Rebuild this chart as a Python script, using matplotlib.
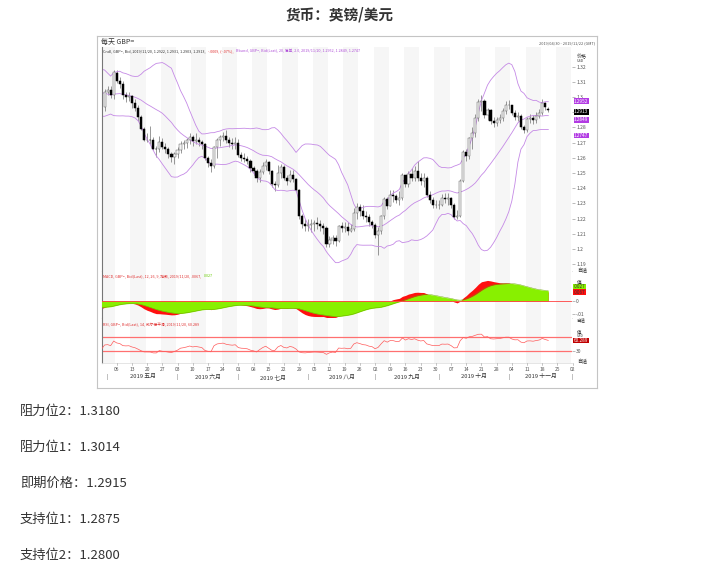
import numpy as np
import pandas as pd
import matplotlib.pyplot as plt
import matplotlib.transforms as mtransforms

plt.rcParams['font.family'] = ['Noto Sans CJK SC', 'DejaVu Sans']

# GBP/USD daily, 2019-04-30 .. 2019-11-20 (business days)
first_day = '2019-04-30'
# closes before the window (Mar 1 .. Apr 29), only used to warm up the indicators
prior_closes = [1.3190, 1.3140, 1.3150, 1.3085, 1.3070, 1.3010, 1.3155, 1.3075, 1.3310, 1.3240,
                1.3260, 1.3265, 1.3245, 1.3220, 1.3095, 1.3205, 1.3210, 1.3225, 1.3200, 1.3030,
                1.3035,
                1.3045, 1.3090, 1.3165, 1.3150, 1.3035, 1.3065, 1.3055, 1.3110, 1.3065, 1.3085,
                1.3080, 1.3040, 1.3040, 1.3000, 1.3000, 1.2995, 1.2935, 1.2905, 1.2890, 1.2920,
                1.2935]

opens = [1.2935, 1.3035, 1.3045, 1.3015,
         1.3160, 1.3105, 1.3085, 1.3010, 1.3000,
         1.3005, 1.2960, 1.2930, 1.2870, 1.2790,
         1.2720, 1.2720, 1.2715, 1.2660, 1.2655,
         1.2705, 1.2670, 1.2655, 1.2625, 1.2605,
         1.2625, 1.2650, 1.2690, 1.2700, 1.2715,
         1.2735, 1.2710, 1.2720, 1.2705, 1.2690,
         1.2600, 1.2565, 1.2545, 1.2670, 1.2720,
         1.2735, 1.2745, 1.2715, 1.2700, 1.2690,
         1.2700, 1.2620, 1.2600, 1.2595, 1.2580,
         1.2535, 1.2510, 1.2465, 1.2505, 1.2545,
         1.2575, 1.2510, 1.2430, 1.2420, 1.2500,
         1.2540, 1.2470, 1.2450, 1.2490, 1.2460,
         1.2385, 1.2220, 1.2165, 1.2150, 1.2160,
         1.2165, 1.2170, 1.2165, 1.2150, 1.2140,
         1.2030, 1.2060, 1.2075, 1.2055, 1.2150,
         1.2140, 1.2145, 1.2120, 1.2130, 1.2235,
         1.2275, 1.2250, 1.2220, 1.2210, 1.2175,
         1.2160, 1.2090, 1.2120, 1.2215, 1.2330,
         1.2285, 1.2355, 1.2350, 1.2325, 1.2335,
         1.2485, 1.2425, 1.2495, 1.2470, 1.2510,
         1.2470, 1.2445, 1.2465, 1.2355, 1.2325,
         1.2290, 1.2290, 1.2290, 1.2335, 1.2330,
         1.2335, 1.2290, 1.2210, 1.2215, 1.2450,
         1.2640, 1.2615, 1.2730, 1.2760, 1.2860,
         1.2965, 1.2975, 1.2880, 1.2915, 1.2840,
         1.2830, 1.2850, 1.2860, 1.2905, 1.2945,
         1.2945, 1.2895, 1.2870, 1.2875, 1.2805,
         1.2785, 1.2855, 1.2860, 1.2850, 1.2875,
         1.2895, 1.2960, 1.2922]

highs = [1.3050, 1.3070, 1.3070, 1.3177,
         1.3175, 1.3130, 1.3105, 1.3030, 1.3035,
         1.3010, 1.2985, 1.2945, 1.2880, 1.2800,
         1.2760, 1.2810, 1.2740, 1.2680, 1.2745,
         1.2730, 1.2695, 1.2670, 1.2640, 1.2640,
         1.2670, 1.2710, 1.2720, 1.2730, 1.2760,
         1.2750, 1.2765, 1.2740, 1.2720, 1.2700,
         1.2615, 1.2590, 1.2680, 1.2730, 1.2750,
         1.2770, 1.2784, 1.2735, 1.2730, 1.2740,
         1.2725, 1.2640, 1.2630, 1.2610, 1.2595,
         1.2545, 1.2525, 1.2525, 1.2570, 1.2590,
         1.2580, 1.2520, 1.2450, 1.2555, 1.2560,
         1.2550, 1.2490, 1.2520, 1.2520, 1.2470,
         1.2395, 1.2230, 1.2200, 1.2200, 1.2200,
         1.2190, 1.2210, 1.2190, 1.2170, 1.2150,
         1.2085, 1.2090, 1.2095, 1.2160, 1.2180,
         1.2175, 1.2180, 1.2165, 1.2270, 1.2300,
         1.2295, 1.2290, 1.2250, 1.2230, 1.2190,
         1.2170, 1.2145, 1.2225, 1.2345, 1.2340,
         1.2385, 1.2385, 1.2360, 1.2380, 1.2500,
         1.2490, 1.2510, 1.2530, 1.2545, 1.2580,
         1.2500, 1.2500, 1.2480, 1.2380, 1.2345,
         1.2320, 1.2320, 1.2360, 1.2370, 1.2370,
         1.2345, 1.2300, 1.2255, 1.2460, 1.2650,
         1.2655, 1.2740, 1.2800, 1.2890, 1.2990,
         1.3013, 1.2990, 1.2930, 1.2920, 1.2870,
         1.2870, 1.2885, 1.2930, 1.2975, 1.2980,
         1.2950, 1.2915, 1.2900, 1.2885, 1.2815,
         1.2870, 1.2890, 1.2880, 1.2900, 1.2920,
         1.2985, 1.2970, 1.2931]

lows = [1.2910, 1.3010, 1.2995, 1.2990,
        1.3090, 1.3060, 1.2990, 1.2970, 1.2975,
        1.2930, 1.2910, 1.2845, 1.2780, 1.2710,
        1.2705, 1.2690, 1.2650, 1.2605, 1.2640,
        1.2655, 1.2630, 1.2600, 1.2575, 1.2560,
        1.2600, 1.2630, 1.2660, 1.2665, 1.2690,
        1.2680, 1.2690, 1.2680, 1.2660, 1.2585,
        1.2540, 1.2506, 1.2530, 1.2600, 1.2680,
        1.2710, 1.2700, 1.2670, 1.2660, 1.2655,
        1.2605, 1.2580, 1.2575, 1.2560, 1.2505,
        1.2490, 1.2440, 1.2440, 1.2495, 1.2520,
        1.2495, 1.2410, 1.2384, 1.2410, 1.2470,
        1.2455, 1.2420, 1.2440, 1.2440, 1.2380,
        1.2200, 1.2140, 1.2120, 1.2120, 1.2110,
        1.2120, 1.2130, 1.2120, 1.2100, 1.2015,
        1.2015, 1.2035, 1.2020, 1.2045, 1.2110,
        1.2110, 1.2095, 1.2110, 1.2120, 1.2200,
        1.2220, 1.2200, 1.2180, 1.2150, 1.2135,
        1.2070, 1.1958, 1.2100, 1.2200, 1.2260,
        1.2280, 1.2310, 1.2300, 1.2290, 1.2320,
        1.2405, 1.2410, 1.2450, 1.2450, 1.2450,
        1.2420, 1.2410, 1.2340, 1.2300, 1.2270,
        1.2270, 1.2265, 1.2280, 1.2300, 1.2290,
        1.2270, 1.2195, 1.2200, 1.2210, 1.2440,
        1.2580, 1.2590, 1.2660, 1.2740, 1.2840,
        1.2910, 1.2860, 1.2850, 1.2820, 1.2805,
        1.2810, 1.2830, 1.2840, 1.2890, 1.2920,
        1.2880, 1.2850, 1.2840, 1.2790, 1.2765,
        1.2770, 1.2830, 1.2820, 1.2830, 1.2860,
        1.2880, 1.2915, 1.2903]

closes = [1.3035, 1.3045, 1.3015, 1.3165,
          1.3105, 1.3085, 1.3010, 1.3000, 1.3005,
          1.2960, 1.2930, 1.2870, 1.2790, 1.2720,
          1.2720, 1.2715, 1.2660, 1.2655, 1.2705,
          1.2670, 1.2655, 1.2625, 1.2605, 1.2625,
          1.2650, 1.2690, 1.2700, 1.2715, 1.2735,
          1.2710, 1.2720, 1.2705, 1.2690, 1.2600,
          1.2565, 1.2545, 1.2670, 1.2720, 1.2735,
          1.2745, 1.2715, 1.2700, 1.2690, 1.2700,
          1.2620, 1.2600, 1.2595, 1.2580, 1.2535,
          1.2510, 1.2465, 1.2505, 1.2545, 1.2575,
          1.2510, 1.2430, 1.2420, 1.2500, 1.2540,
          1.2470, 1.2450, 1.2490, 1.2460, 1.2385,
          1.2220, 1.2165, 1.2150, 1.2160, 1.2165,
          1.2170, 1.2165, 1.2150, 1.2140, 1.2030,
          1.2060, 1.2075, 1.2055, 1.2150, 1.2140,
          1.2145, 1.2120, 1.2130, 1.2235, 1.2275,
          1.2250, 1.2220, 1.2210, 1.2175, 1.2160,
          1.2090, 1.2120, 1.2215, 1.2330, 1.2285,
          1.2355, 1.2350, 1.2325, 1.2335, 1.2485,
          1.2425, 1.2495, 1.2470, 1.2510, 1.2470,
          1.2445, 1.2465, 1.2355, 1.2325, 1.2290,
          1.2290, 1.2290, 1.2335, 1.2330, 1.2335,
          1.2290, 1.2210, 1.2215, 1.2450, 1.2640,
          1.2615, 1.2730, 1.2760, 1.2860, 1.2965,
          1.2975, 1.2880, 1.2915, 1.2840, 1.2830,
          1.2850, 1.2860, 1.2905, 1.2945, 1.2945,
          1.2895, 1.2870, 1.2875, 1.2805, 1.2785,
          1.2855, 1.2860, 1.2850, 1.2875, 1.2895,
          1.2960, 1.2935, 1.2913]

price_ticks = [1.19, 1.20, 1.21, 1.22, 1.23, 1.24, 1.25, 1.26, 1.27, 1.28, 1.29, 1.30, 1.31, 1.32]
hidden_tick = 1.29  # sits under the last-price box in the reference
month_labels = ['2019 五月', '2019 六月', '2019 七月', '2019 八月', '2019 九月', '2019 十月', '2019 十一月']
month_starts = ['2019-05-01', '2019-06-03', '2019-07-01', '2019-08-01', '2019-09-02', '2019-10-01', '2019-11-01', '2019-12-02']
band_labels = ['1.2952', '1.2849', '1.2747']
last_label = '1.2913'
macd_labels = ['.0067', '.0027']
rsi_label = '60.289'

levels = [('阻力位2', '1.3180'), ('阻力位1', '1.3014'), ('即期价格', '1.2915'),
          ('支持位1', '1.2875'), ('支持位2', '1.2800')]

# ---- positions (trading-day axis starting Mon 2019-04-29) ----
axis_days = pd.bdate_range('2019-04-29', '2019-12-06')
bar_days = pd.bdate_range(first_day, periods=len(closes))
pos = axis_days.get_indexer(bar_days)
mondays = axis_days[(axis_days.weekday == 0) & (axis_days >= '2019-05-06')]
tick_pos = axis_days.get_indexer(mondays)

o = np.array(opens); h = np.array(highs); l = np.array(lows); c = np.array(closes)

# ---- indicators ----
s = pd.Series(prior_closes + closes)
mid = s.rolling(20).mean()
sd = s.rolling(20).std(ddof=0)
upper, lower = mid + 2 * sd, mid - 2 * sd
macd = s.ewm(span=12, adjust=False).mean() - s.ewm(span=26, adjust=False).mean()
signal = macd.ewm(span=9, adjust=False).mean()
d = s.diff()
gain = d.clip(lower=0).ewm(alpha=1 / 14, adjust=False).mean()
loss = (-d.clip(upper=0)).ewm(alpha=1 / 14, adjust=False).mean()
rsi = 100 - 100 / (1 + gain / loss)

n = len(closes) + 1  # include the day before the window so lines reach the left edge
ix = np.concatenate([[pos[0] - 1], pos])
up_b, mid_b, lo_b = upper.values[-n:], mid.values[-n:], lower.values[-n:]
macd_v, sig_v, rsi_v = macd.values[-n:], signal.values[-n:], rsi.values[-n:]

# ---- figure ----
W, H = 711, 575
fig = plt.figure(figsize=(W / 100, H / 100), dpi=100)
fig.patch.set_facecolor('white')


def px_axes(x0, y0, x1, y1):
    return fig.add_axes([x0 / W, 1 - y1 / H, (x1 - x0) / W, (y1 - y0) / H])


def header(a, y, parts, size=2.7):
    # several coloured pieces on one line, each placed right after the previous one
    t = a.text(0.003, y, parts[0][0], transform=a.transAxes, fontsize=size, color=parts[0][1], va='top')
    for txt, col in parts[1:]:
        t = a.annotate(txt, xy=(1, 1), xycoords=t, xytext=(1.5, 0), textcoords='offset points',
                       fontsize=size, color=col, va='top')


grey = '#555555'
small = 3.6
xlo, xhi = 0.15, 154.8

fig.text(340 / W, 1 - 14 / H, '货币：英镑/美元', ha='center', va='center', fontsize=10.5,
         fontweight='bold', color='#333333')

# outer frame of the chart picture
frame = fig.add_axes([97 / W, 1 - 388 / H, 500 / W, 352 / H])
frame.set_xticks([]); frame.set_yticks([])
for sp in frame.spines.values():
    sp.set_color('#c4c4c4'); sp.set_linewidth(0.8)
frame.patch.set_alpha(0)

fig.text(101 / W, 1 - 42 / H, '每天 GBP=', fontsize=5, color='#333333', va='center')
fig.text(595 / W, 1 - 43 / H, '2019/04/30 - 2019/11/22 (GMT)', fontsize=2.8, color=grey,
         va='center', ha='right')

ax = px_axes(102, 47, 572, 271)
ax_m = px_axes(102, 271, 572, 318)
ax_r = px_axes(102, 318, 572, 363)
ax_d = px_axes(102, 363, 572, 387)

for a in (ax, ax_m, ax_r):
    a.set_xlim(xlo, xhi)
    for k, t in enumerate(np.arange(0, 160, 5)):
        if k % 2 == 0:
            a.axvspan(t - 0.5, t + 4.5, color='#f6f6f6', lw=0, zorder=0)
    for sp in ('top', 'right'):
        a.spines[sp].set_visible(False)
    a.spines['bottom'].set_color('#e0e0e0')
    a.spines['bottom'].set_linewidth(0.6)
    a.spines['left'].set_color('#777777')
    a.spines['left'].set_linewidth(0.8)
    a.set_xticks([])
    a.yaxis.tick_right()
    a.tick_params(axis='y', length=2, width=0.4, colors='#888888', labelsize=small, pad=1,
                  labelcolor=grey)

# price panel
ax.set_ylim(1.20 - 22 / 1520, 1.20 + 202 / 1520)
ax.set_yticks(price_ticks)
ax.set_yticklabels(['' if v == hidden_tick else f'{v:g}' for v in price_ticks])
ax.vlines(pos, l, h, color='#707070', lw=0.5, zorder=2)
up = c >= o
ax.bar(pos[up], (c - o)[up], bottom=o[up], width=0.7, color='#f4f4f4', edgecolor='#606060',
       lw=0.35, zorder=3)
ax.bar(pos[~up], (o - c)[~up], bottom=c[~up], width=0.7, color='black', edgecolor='black',
       lw=0.35, zorder=3)
for band in (up_b, mid_b, lo_b):
    ax.plot(ix, band, color='#c58ae6', lw=0.6, zorder=2)

header(ax, 0.99, [('Cndl, GBP=, Bid, 2019/11/20, 1.2922, 1.2931, 1.2903, 1.2913,', '#333333'),
                  ('-.0009, (-.07%),', '#e03030'),
                  ('Bband, GBP=, Bid(Last), 20, 简单, 2.0, 2019/11/20, 1.2952, 1.2849, 1.2747', '#b050d8')])
tr = mtransforms.blended_transform_factory(ax.transAxes, ax.transData)
ax.text(1.01, 1.32 + 0.0068, '价格', transform=tr, fontsize=3.6, color='#333333', va='center')
ax.text(1.01, 1.32 + 0.0034, 'USD', transform=tr, fontsize=2.6, color='#333333', va='center')
ax.text(1.01, 1.20 - 0.0140, '自适', transform=tr, fontsize=3.6, color='#333333', va='center')

# value boxes, stacked at the right of the price scale
box_kw = dict(transform=tr, fontsize=3.4, color='white', va='center', zorder=5)
ax.annotate(band_labels[0], xy=(1.004, float(band_labels[0])), xycoords=tr, xytext=(0, 2.2),
            textcoords='offset points', fontsize=3.4, color='white', va='center', zorder=5,
            bbox=dict(boxstyle='square,pad=0.08', fc='#b23be3', ec='none'))
ax.annotate(last_label, xy=(1.004, float(last_label)), xycoords=tr, xytext=(0, -1.2),
            textcoords='offset points', fontsize=3.4, color='white', va='center', zorder=6,
            bbox=dict(boxstyle='square,pad=0.08', fc='black', ec='none'))
for lab in band_labels[1:]:
    ax.text(1.004, float(lab), lab, bbox=dict(boxstyle='square,pad=0.08', fc='#b23be3', ec='none'), **box_kw)

# MACD panel
mscale = 1300.0
ax_m.set_ylim(-17 / mscale, 30 / mscale)
ax_m.set_yticks([0, -0.01])
ax_m.set_yticklabels(['0', '-.01'])
ax_m.fill_between(ix, 0, macd_v, color='#ff1010', lw=0, zorder=2)
ax_m.fill_between(ix, 0, sig_v, color='#88f000', lw=0, zorder=3)
ax_m.plot(ix, sig_v, color='#6aa000', lw=0.3, zorder=4)
ax_m.axhline(0, color='#ff4040', lw=0.6, zorder=4)
header(ax_m, 0.93, [('MACD, GBP=, Bid(Last), 12, 26, 9, 指数, 2019/11/20, .0067,', '#e03030'),
                    ('.0027', '#66cc00')])
trm = mtransforms.blended_transform_factory(ax_m.transAxes, ax_m.transData)
ax_m.text(1.01, 19 / mscale, '值', transform=trm, fontsize=3.4, color='#333333', va='center')
ax_m.text(1.004, 14 / mscale, macd_labels[1], transform=trm, fontsize=3.3, color='#333333', va='center',
          bbox=dict(boxstyle='square,pad=0.1', fc='#88f000', ec='none'), zorder=5)
ax_m.text(1.004, 9 / mscale, macd_labels[0], transform=trm, fontsize=3.3, color='#333333', va='center',
          bbox=dict(boxstyle='square,pad=0.1', fc='#ff1010', ec='none'), zorder=6)
ax_m.text(1.01, -17 / mscale, '自适', transform=trm, fontsize=3.2, color='#333333', va='top')

# RSI panel
rscale = 0.35
ax_r.set_ylim(30 - 12 / rscale, 70 + 19 / rscale)
ax_r.set_yticks([30])
ax_r.set_yticklabels(['30'])
ax_r.axhline(70, color='#ff7070', lw=0.9, zorder=2)
ax_r.axhline(30, color='#ff7070', lw=0.9, zorder=2)
ax_r.plot(ix, rsi_v, color='#ff5a5a', lw=0.5, zorder=3)
header(ax_r, 0.88, [('RSI, GBP=, Bid(Last), 14, 威尔德平滑, 2019/11/20, 60.289', '#e03030')])
trr = mtransforms.blended_transform_factory(ax_r.transAxes, ax_r.transData)
ax_r.text(1.01, 70 + 5 / rscale, '值', transform=trr, fontsize=3.2, color='#333333', va='center')
ax_r.text(1.01, 70 + 1.2 / rscale, 'USD', transform=trr, fontsize=2.4, color='#333333', va='center')
ax_r.text(1.004, 70 - 3.5 / rscale, rsi_label, transform=trr, fontsize=3.3, color='white', va='center',
          bbox=dict(boxstyle='square,pad=0.1', fc='#c00000', ec='none'), zorder=5)
ax_r.text(1.01, 30 - 10.5 / rscale, '自适', transform=trr, fontsize=3.6, color='#333333', va='center')

# date axis
ax_d.set_xlim(xlo, xhi)
ax_d.set_ylim(0, 1)
ax_d.axis('off')
for p, day in zip(tick_pos, mondays):
    ax_d.plot([p, p], [0.93, 1.0], color='#999999', lw=0.4, clip_on=False)
    ax_d.text(p, 0.72, day.strftime('%d'), ha='center', va='center', fontsize=3.6, color=grey)
ms = axis_days.get_indexer(pd.to_datetime(month_starts))
for p in ms:
    ax_d.text(p, 0.42, '|', ha='center', va='center', fontsize=4, color=grey, clip_on=False)
for a, b, lab in zip(ms[:-1], ms[1:], month_labels):
    ax_d.text((a + b) / 2, 0.42, lab, ha='center', va='center', fontsize=4.2, color='#333333')

# text block under the chart
for k, (name, val) in enumerate(levels):
    fig.text(20 / W, 1 - (411 + 36 * k) / H, f'{name}：{val}', fontsize=9.5, color='#333333', va='center')

fig.savefig('out.png', dpi=100)
